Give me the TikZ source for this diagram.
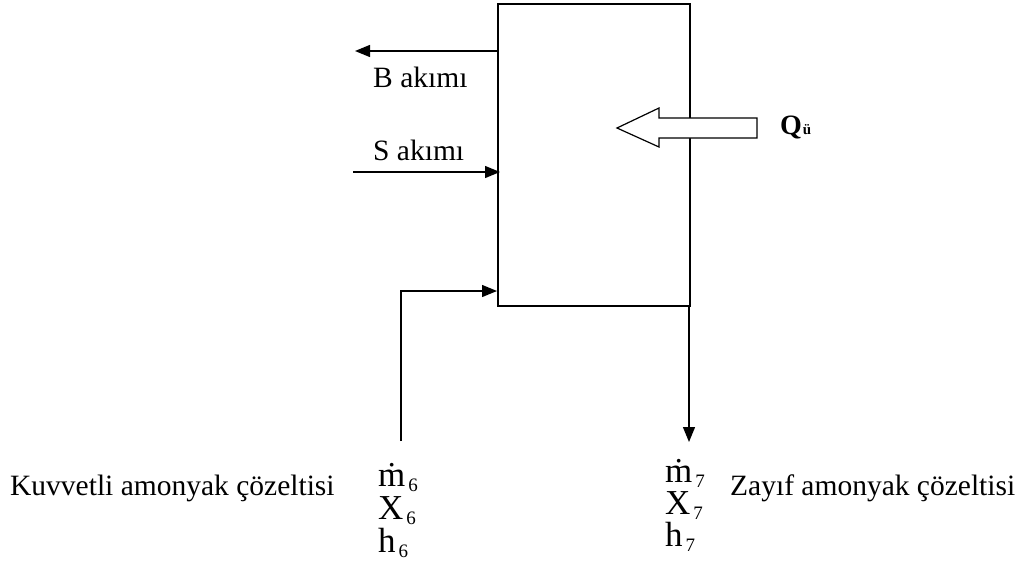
\documentclass[tikz,border=0pt]{standalone}
\usepackage{fontspec}
\setmainfont{Liberation Serif}
\usetikzlibrary{arrows.meta}
\newcommand{\subnum}[1]{\kern3pt\raisebox{-5pt}{\fontsize{19}{22}\selectfont #1}}
\begin{document}
\begin{tikzpicture}[x=1pt,y=-1pt,
  arr/.style={line width=1.3pt, -{Triangle[length=15pt,width=12pt]}},
  lbl/.style={anchor=base west, inner sep=0pt, font=\fontsize{29.5}{34}\selectfont},
  var/.style={anchor=base west, inner sep=0pt, text height=22pt, text depth=7pt,
              font=\fontsize{35}{40}\selectfont},
  qlbl/.style={anchor=base west, inner sep=0pt, font=\bfseries\fontsize{28}{32}\selectfont}]
\useasboundingbox (0,0) rectangle (1021,565);

% main vessel
\node[draw, line width=1.6pt, minimum width=192pt, minimum height=302pt,
      anchor=north west, inner sep=0pt] (box) at (497,3) {};

% B stream (out, left)
\coordinate (bin) at (497,51);
\coordinate (bout) at (355,51);
\draw[arr] (bin) -- (bout);
\node[lbl] (blbl) at (373,87) {B akımı};

% S stream (in)
\coordinate (sstart) at (353,172);
\coordinate (send) at (500,172);
\draw[arr] (sstart) -- (send);
\node[lbl] (slbl) at (373,160) {S akımı};

% strong solution in
\coordinate (s6) at (401,441);
\coordinate (s6end) at (497,291);
\draw[arr] (s6) |- (s6end);

% weak solution out
\coordinate (w7) at (689,305);
\coordinate (w7end) at (689,442);
\draw[arr] (w7) -- (w7end);

% heat input hollow arrow
\draw[line width=1.2pt, fill=white, line join=miter]
  (757,118) -- (659,118) -- (659,108) -- (617,128) -- (659,147) -- (659,138) -- (757,138) -- cycle;
\node[qlbl] (q) at (780,134) {Q\kern1pt{\fontsize{15}{17}\selectfont ü}};

% labels bottom left
\node[lbl] (kuv) at (10,495) {Kuvvetli amonyak çözeltisi};
\node[var] (m6) at (378,486) {\.{m}\subnum{6}};
\node[var] (x6) at (378,519) {X\subnum{6}};
\node[var] (h6) at (378,552) {h\subnum{6}};

% labels bottom right
\node[var] (m7) at (665,482) {\.{m}\subnum{7}};
\node[var] (x7) at (665,514) {X\subnum{7}};
\node[var] (h7) at (665,546) {h\subnum{7}};
\node[lbl] (zay) at (730,495) {Zayıf amonyak çözeltisi};
\end{tikzpicture}
\end{document}
